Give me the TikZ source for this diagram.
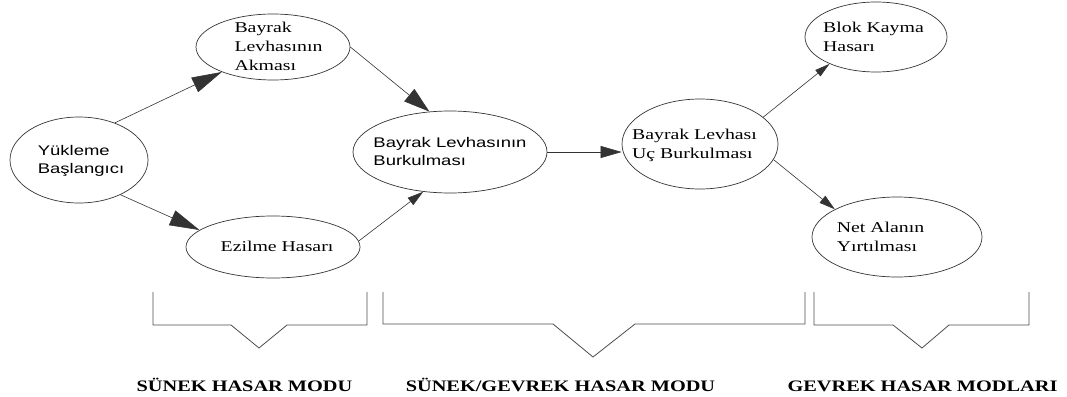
\documentclass[tikz,border=0pt]{standalone}
\usepackage{fontspec}
\usepackage{graphicx}
\setmainfont{Liberation Serif}
\newfontfamily\sansn{Liberation Sans}
\usetikzlibrary{shapes.geometric,arrows.meta}
\newcommand{\serfont}{\rmfamily\fontsize{15}{19}\selectfont}
\newcommand{\sanfont}{\sansn\fontsize{14}{18.5}\selectfont}
\newcommand{\ntext}[3][0pt]{\makebox[0pt]{\hspace*{#1}\hspace*{#1}\smash{\raisebox{-4.5pt}{\scalebox{1.32}[1]{#2\begin{tabular}{@{}l@{}}#3\end{tabular}}}}}}
\newcommand{\lab}[1]{\scalebox{1.27}[1]{\fontsize{16}{19}\selectfont\bfseries #1}}
\begin{document}
\begin{tikzpicture}[x=1pt,y=-1pt,
  el/.style={ellipse, draw=black!80, line width=0.7pt, inner sep=0pt},
  conn/.style={line width=0.6pt, draw=black!80},
  brk/.style={line width=0.8pt, draw=black!70, line join=miter},
  bighead/.style={-{Triangle[length=30pt,width=16pt]}},
  midhead/.style={-{Triangle[length=21pt,width=12pt]}},
  smallhead/.style={-{Triangle[length=16pt,width=9pt]}}]
\useasboundingbox (0,0) rectangle (1067,396);

\node[el, minimum width=138pt, minimum height=86pt] (Y) at (79,160) {\ntext[2pt]{\sanfont}{Yükleme\\Başlangıcı}};
\node[el, minimum width=154pt, minimum height=66pt] (A) at (273,47) {\ntext[5.5pt]{\serfont}{Bayrak\\Levhasının\\Akması}};
\node[el, minimum width=174pt, minimum height=62pt] (E) at (273,247) {\ntext[4pt]{\serfont}{Ezilme Hasarı}};
\node[el, minimum width=194pt, minimum height=82pt] (B) at (450,152) {\ntext[0pt]{\sanfont}{Bayrak Levhasının\\Burkulması}};
\node[el, minimum width=156pt, minimum height=90pt] (U) at (700,144) {\ntext[-5.5pt]{\serfont}{Bayrak Levhası\\Uç Burkulması}};
\node[el, minimum width=142pt, minimum height=70pt] (K) at (876,37) {\ntext[-2.5pt]{\serfont}{Blok Kayma\\Hasarı}};
\node[el, minimum width=170pt, minimum height=80pt] (N) at (897,237) {\ntext[-16.5pt]{\serfont}{Net Alanın\\Yırtılması}};

\draw[conn, bighead] (Y.46) -- (A.206);
\draw[conn, bighead] (Y.320) -- (E.167);
\draw[conn, -{Triangle[length=26pt,width=16pt]}] (A.east) -- (B.117);
\draw[conn, smallhead] (E.4) -- (B.236);
\draw[conn, midhead] (B.east) -- (B.east -| U.west);
\draw[conn, -{Triangle[length=15pt,width=8pt]}] (U.23) -- (K.210);
\draw[conn, smallhead] (U.348) -- (N.156);

\draw[brk] (153,292) -- (153,325) -- (231,325) -- (259,348) -- (287,325) -- (367,325) -- (367,292);
\draw[brk] (383,292) -- (383,324) -- (553,324) -- (593,357) -- (635,324) -- (805,324) -- (805,292);
\draw[brk] (814,292) -- (814,325) -- (893,325) -- (922,348) -- (949,325) -- (1029,325) -- (1029,292);

\node[anchor=base, inner sep=0pt] (l1) at (244.5,391) {\lab{SÜNEK HASAR MODU}};
\node[anchor=base, inner sep=0pt] (l2) at (560.5,391) {\lab{SÜNEK/GEVREK HASAR MODU}};
\node[anchor=base, inner sep=0pt] (l3) at (922.5,391) {\lab{GEVREK HASAR MODLARI}};
\end{tikzpicture}
\end{document}
